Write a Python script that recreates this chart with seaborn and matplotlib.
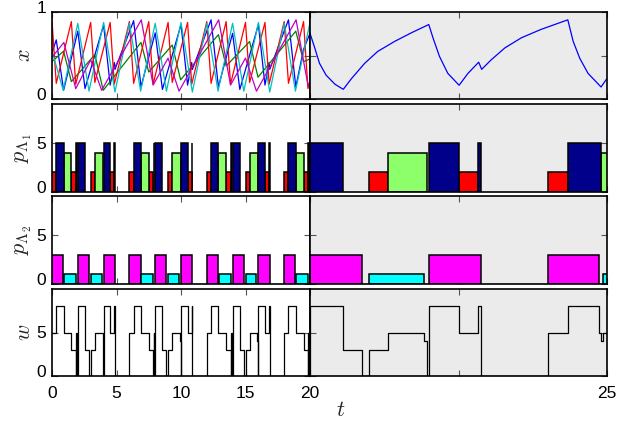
import matplotlib
matplotlib.use("Agg")
import matplotlib.pyplot as plt
import matplotlib.transforms as mtransforms
import numpy as np
import seaborn as sns

# ---- server schedules (bar start / end times) ----
RED_START = [0.0, 1.5, 3.0, 4.51, 6.0, 7.5, 9.0, 10.51, 12.0, 13.5, 15.0, 16.51, 18.0, 19.5, 21.0, 22.51, 24.0]
RED_END = [0.33, 1.84, 3.32, 4.83, 6.33, 7.84, 9.32, 10.83, 12.33, 13.84, 15.32, 16.83, 18.33, 19.84, 21.32, 22.83, 24.34]
GREEN_START = [0.9, 3.32, 6.9, 9.32, 12.9, 15.32, 18.9, 21.32, 24.9]
GREEN_END = [1.5, 3.97, 7.5, 9.97, 13.5, 15.97, 19.5, 21.97, 25.5]
BLUE_START = [0.33, 1.88, 2.0, 4.0, 4.83, 6.33, 7.88, 8.0, 10.0, 10.83, 12.33, 13.88, 14.0, 16.0, 16.83,
              18.33, 19.88, 20.0, 22.0, 22.83, 24.34]
BLUE_END = [0.9, 1.92, 2.56, 4.51, 4.88, 6.9, 7.92, 8.56, 10.51, 10.88, 12.9, 13.92, 14.56, 16.51, 16.88,
            18.9, 19.92, 20.56, 22.51, 22.88, 24.9]
MAG_START = [0.0, 2.0, 4.0, 6.0, 8.0, 10.0, 12.0, 14.0, 16.0, 18.0, 20.0, 22.0, 24.0]
MAG_END = [0.87, 2.87, 4.88, 6.87, 8.87, 10.88, 12.87, 14.87, 16.88, 18.87, 20.87, 22.88, 24.87]
CYAN_START = [0.92, 3.0, 6.92, 9.0, 12.92, 15.0, 18.92, 21.0, 24.94]
CYAN_END = [1.84, 3.85, 7.84, 9.85, 13.84, 15.85, 19.84, 21.92, 25.84]
H_RED, H_GREEN, H_BLUE = 2, 4, 5       # p_Lambda1 levels
H_MAG, H_CYAN = 3, 1                    # p_Lambda2 levels

# ---- w (step, value holds until next time) ----
W_T = [0.0, 0.33, 0.9, 1.5, 1.84, 1.88, 1.92, 2.0, 2.56, 2.87, 3.0, 3.32, 3.92, 3.97, 4.0, 4.51, 4.83, 4.88,
       6.0, 6.33, 6.9, 7.5, 7.84, 7.88, 7.92, 8.0, 8.56, 8.87, 9.0, 9.32, 9.92, 9.97, 10.0, 10.51, 10.83, 10.88,
       12.0, 12.33, 12.9, 13.5, 13.84, 13.88, 13.92, 14.0, 14.56, 14.87, 15.0, 15.32, 15.92, 15.97, 16.0, 16.51,
       16.83, 16.88, 18.0, 18.33, 18.9, 19.5, 19.84, 19.88, 19.92, 20.0, 20.56, 20.87, 21.0, 21.32, 21.92,
       21.97, 22.0, 22.51, 22.83, 22.88, 24.0, 24.34, 24.87, 24.9, 24.94, 25.0]
W_V = [5, 8, 5, 3, 0, 5, 0, 8, 3, 0, 3, 5, 4, 0, 8, 5, 8, 0,
       5, 8, 5, 3, 0, 5, 0, 8, 3, 0, 3, 5, 4, 0, 8, 5, 8, 0,
       5, 8, 5, 3, 0, 5, 0, 8, 3, 0, 3, 5, 4, 0, 8, 5,
       8, 0, 5, 8, 5, 3, 0, 5, 0, 8, 3, 0, 3, 5, 4,
       0, 8, 5, 8, 0, 5, 8, 5, 4, 5, 5]

# ---- buffer levels x_i(t) ----
BLUE_T = [0.0, 0.33, 0.9, 2.0, 2.56, 4.0, 4.51, 4.83, 4.88, 6.33, 6.9, 8.0, 8.56, 10.0, 10.51, 10.83, 10.88,
          12.33, 12.9, 14.0, 14.56, 16.0, 16.51, 16.83, 16.88, 18.33, 18.9, 19.5,
          20.0, 20.08, 20.16, 20.27, 20.42, 20.56, 20.70, 20.92, 21.14, 21.43, 21.71, 22.0, 22.07, 22.18,
          22.32, 22.51, 22.66, 22.84, 22.89, 23.05, 23.28, 23.56, 23.89, 24.34, 24.43, 24.54, 24.68, 24.9, 25.0]
BLUE_X = [0.53, 0.68, 0.10, 0.78, 0.12, 0.85, 0.16, 0.42, 0.34, 0.90, 0.14, 0.76, 0.11, 0.855, 0.16, 0.42, 0.34,
          0.91, 0.14, 0.755, 0.11, 0.855, 0.16, 0.42, 0.34, 0.91, 0.14, 0.57,
          0.755, 0.587, 0.41, 0.275, 0.17, 0.111, 0.236, 0.41, 0.547, 0.664, 0.762, 0.856, 0.704, 0.489,
          0.295, 0.158, 0.295, 0.423, 0.341, 0.45, 0.587, 0.704, 0.80, 0.91, 0.664, 0.47, 0.295, 0.138, 0.236]
GREEN_T = [0.0, 0.9, 1.5, 3.32, 3.97, 6.9, 7.5, 9.32, 9.97, 12.9, 13.5, 15.32, 15.97, 18.9, 19.5, 20.0]
GREEN_X = [0.43, 0.55, 0.20, 0.51, 0.10, 0.65, 0.31, 0.62, 0.22, 0.74, 0.38, 0.66, 0.25, 0.78, 0.43, 0.46]
RED_T = [0.0, 0.33, 1.5, 1.84, 3.0, 3.32, 4.51, 4.83, 6.0, 6.33, 7.5, 7.84, 9.0, 9.32, 10.51, 10.83,
         12.0, 12.33, 13.5, 13.84, 15.0, 15.32, 16.51, 16.83, 18.0, 18.33, 19.5, 19.84, 20.0]
RED_X = [0.90, 0.18, 0.89, 0.17, 0.88, 0.19, 0.88, 0.17, 0.89, 0.18, 0.89, 0.17, 0.88, 0.19, 0.88, 0.17,
         0.89, 0.18, 0.89, 0.17, 0.88, 0.19, 0.88, 0.17, 0.89, 0.18, 0.89, 0.12, 0.20]
CYAN_T = [0.0, 0.87, 2.0, 2.87, 4.0, 4.88, 6.0, 6.87, 8.0, 8.87, 10.0, 10.88, 12.0, 12.87, 14.0, 14.87,
          16.0, 16.88, 18.0, 18.87, 20.0]
CYAN_X = [0.55, 0.10, 0.87, 0.09, 0.88, 0.08, 0.87, 0.09, 0.87, 0.09, 0.88, 0.08, 0.87, 0.09, 0.87, 0.09,
          0.88, 0.08, 0.87, 0.09, 0.88]
MAG_T = [0.0, 0.92, 1.84, 3.0, 3.85, 6.92, 7.84, 9.0, 9.85, 12.92, 13.84, 15.0, 15.85, 18.92, 19.84, 20.0]
MAG_X = [0.48, 0.65, 0.12, 0.45, 0.10, 0.91, 0.16, 0.47, 0.09, 0.91, 0.16, 0.47, 0.09, 0.91, 0.16, 0.20]

LEFT_TICKS = [0, 5, 10, 15, 20]
RIGHT_TICKS = [20, 22.5, 25]
YLABELS = ["$x$", r"$p_{\Lambda_1}$", r"$p_{\Lambda_2}$", "$w$"]

sns.set_style("ticks")
plt.rcParams["font.family"] = ["Liberation Sans Narrow", "Liberation Sans", "DejaVu Sans"]
plt.rcParams["mathtext.fontset"] = "cm"

W, H = 624, 421
fig = plt.figure(figsize=(W / 100, H / 100), dpi=100)
rows = [(12, 99), (104, 192), (196, 284), (289, 376)]
ylims = [(0, 1), (0, 9), (0, 9), (0, 10)]
yticks = [[0, 0.5, 1], [0, 5], [0, 5], [0, 5]]
yticklabels = [["0", "", "1"], ["0", "5"], ["0", "5"], ["0", "5"]]
nudge_up = mtransforms.ScaledTranslation(0, 5 / 100, fig.dpi_scale_trans)


def bars(ax, starts, ends, h, color):
    ax.bar(starts, h, width=np.subtract(ends, starts), align="edge", color=color,
           edgecolor="black", linewidth=1.1, zorder=2)


def curve(ax, t, x, color, **kw):
    sns.lineplot(x=t, y=x, ax=ax, color=color, linewidth=0.9, sort=False,
                 estimator=None, legend=False, **kw)


for i, (top, bot) in enumerate(rows):
    b, h = 1 - bot / H, (bot - top) / H
    axl = fig.add_axes([52 / W, b, 258 / W, h])
    axr = fig.add_axes([310 / W, b, 297 / W, h])
    axr.set_facecolor("#ebebeb")
    axl.set_facecolor("white")

    if i == 0:
        curve(axl, BLUE_T, BLUE_X, (0, 0, 1))
        curve(axl, GREEN_T, GREEN_X, (0, 0.5, 0))
        curve(axl, RED_T, RED_X, (1, 0, 0))
        curve(axl, CYAN_T, CYAN_X, (0, 0.75, 0.75))
        curve(axl, MAG_T, MAG_X, (0.75, 0, 0.75))
        curve(axr, BLUE_T, BLUE_X, (0, 0, 1))
    for ax in (axl, axr):
        if i == 1:
            bars(ax, RED_START, RED_END, H_RED, "#ff0000")
            bars(ax, GREEN_START, GREEN_END, H_GREEN, "#8cff6a")
            bars(ax, BLUE_START, BLUE_END, H_BLUE, "#00008b")
        elif i == 2:
            bars(ax, MAG_START, MAG_END, H_MAG, "#ff00ff")
            bars(ax, CYAN_START, CYAN_END, H_CYAN, "#00ffff")
        elif i == 3:
            curve(ax, W_T, W_V, "black", drawstyle="steps-post")

    axl.set_xlim(0, 20)
    axr.set_xlim(20, 25)
    for ax in (axl, axr):
        ax.set_ylim(*ylims[i])
        ax.set_yticks(yticks[i])
        ax.set_xlabel("")
        ax.set_ylabel("")
        for s in ax.spines.values():
            s.set_visible(True)
            s.set_linewidth(1.2)
            s.set_color("black")
            s.set_zorder(5)
        ax.tick_params(direction="in", length=4, width=0.8, color="#555555",
                       top=True, bottom=True, left=True, right=True,
                       labelsize=12.5, labelcolor="black")
        ax.tick_params(axis="x", pad=7)
        ax.tick_params(axis="y", pad=4)
    axl.set_xticks(LEFT_TICKS)
    axr.set_xticks(RIGHT_TICKS)
    axl.set_yticklabels(yticklabels[i])
    axr.set_yticklabels([])
    if i == 3:
        axl.set_xticklabels([str(v) for v in LEFT_TICKS])
        axr.set_xticklabels(["", "", "25"])
    else:
        axl.set_xticklabels([])
        axr.set_xticklabels([])
    for lab in axl.get_yticklabels():
        if lab.get_text() in ("0", "1"):
            lab.set_transform(lab.get_transform() + nudge_up)

    fig.text(24 / W, 1 - (top + bot) / 2 / H, YLABELS[i], rotation=90,
             ha="center", va="center", fontsize=16)

fig.text(341 / W, 1 - 410 / H, "$t$", ha="center", va="center", fontsize=16)

fig.savefig("out.png", dpi=100, facecolor="white")
